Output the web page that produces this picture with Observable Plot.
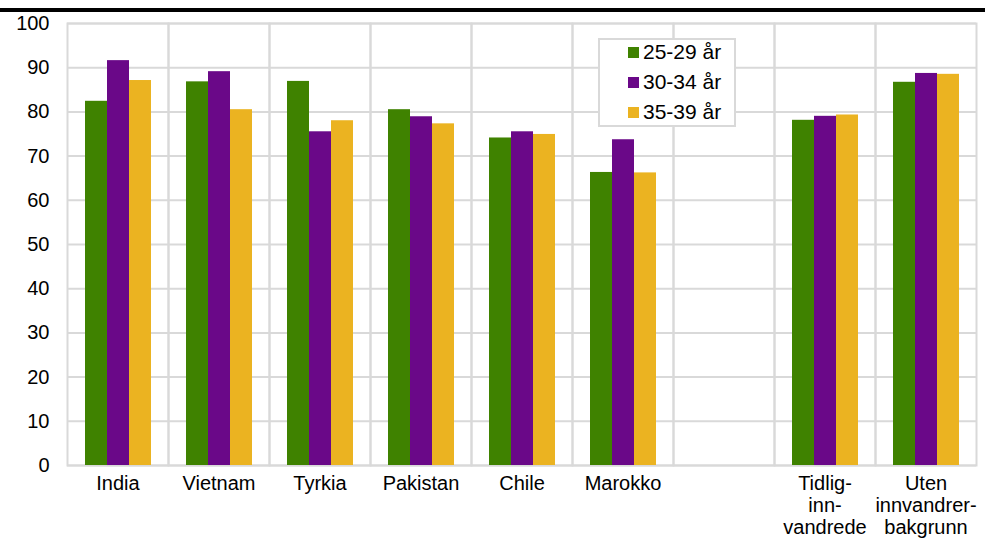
<!DOCTYPE html>
<html>
<head>
<meta charset="utf-8">
<script src="https://cdn.jsdelivr.net/npm/d3@7"></script>
<script src="https://cdn.jsdelivr.net/npm/@observablehq/plot@0.6"></script>
<style>
  body { margin: 0; background: #fff; font-family: "Liberation Sans", Arial, sans-serif; }
  #wrap { position: relative; width: 985px; height: 539px; overflow: hidden; }
  #topline { height: 8px; border-bottom: 4px solid #000; }
  #legend { position: absolute; left: 598px; top: 38px; width: 134px; height: 85px;
    border: 2px solid #d9d9d9; background: #fff; font-size: 21px; color: #000; }
  .row { position: absolute; left: 28px; height: 24px; display: flex; align-items: center; }
  .sw { width: 11px; height: 11px; margin-right: 4px; }
</style>
</head>
<body>
<div id="wrap">
  <div id="topline"></div>
  <div id="chart"></div>
  <div id="legend"></div>
</div>
<script>
const categories = ["India", "Vietnam", "Tyrkia", "Pakistan", "Chile", "Marokko", " ", "Tidlig-\ninn-\nvandrede", "Uten\ninnvandrer-\nbakgrunn"];
const seriesNames = ["25-29 år", "30-34 år", "35-39 år"];
const values2529 = [82.4, 86.8, 86.9, 80.5, 74.1, 66.3, null, 78.1, 86.7];
const values3034 = [91.6, 89.1, 75.5, 78.9, 75.5, 73.7, null, 79.0, 88.7];
const values3539 = [87.1, 80.5, 78.0, 77.3, 74.9, 66.2, null, 79.3, 88.5];
const yTicks = [0, 10, 20, 30, 40, 50, 60, 70, 80, 90, 100];
const colors = ["#3f8200", "#6a0888", "#ebb321"];

const allValues = [values2529, values3034, values3539];
const data = [];
categories.forEach((c, i) => {
  seriesNames.forEach((s, j) => {
    const v = allValues[j][i];
    if (v != null) data.push({category: c, series: s, value: v});
  });
});
const gridData = categories.flatMap(c => yTicks.map(t => ({category: c, tick: t})));

const chart = Plot.plot({
  width: 985,
  height: 527,
  marginTop: 11,
  marginBottom: 74,
  marginLeft: 66,
  marginRight: 8,
  style: {fontFamily: "'Liberation Sans', Arial, sans-serif", fontSize: "20px", color: "#000", background: "#fff"},
  fx: {domain: categories, padding: 0, label: null},
  x: {domain: seriesNames, paddingInner: 0, paddingOuter: 0.74, axis: null},
  y: {domain: [0, 100], axis: null},
  color: {domain: seriesNames, range: colors},
  marks: [
    Plot.ruleY(gridData, {fx: "category", y: "tick", stroke: "#d9d9d9", strokeWidth: 2}),
    Plot.frame({stroke: "#d9d9d9", strokeWidth: 2}),
    Plot.barY(data, {fx: "category", x: "series", y: "value", fill: "series"}),
    Plot.axisY({ticks: yTicks, tickSize: 0, tickPadding: 18, fontSize: 20, label: null}),
    Plot.axisFx({anchor: "bottom", tickSize: 0, tickPadding: 9, fontSize: 20, lineHeight: 1.1, label: null})
  ]
});
document.getElementById("chart").appendChild(chart);

const legend = document.getElementById("legend");
seriesNames.forEach((s, i) => {
  const row = document.createElement("div");
  row.className = "row";
  row.style.top = (0 + i * 30) + "px";
  const sw = document.createElement("div");
  sw.className = "sw";
  sw.style.background = colors[i];
  const label = document.createElement("span");
  label.textContent = s;
  row.appendChild(sw);
  row.appendChild(label);
  legend.appendChild(row);
});
</script>
</body>
</html>
